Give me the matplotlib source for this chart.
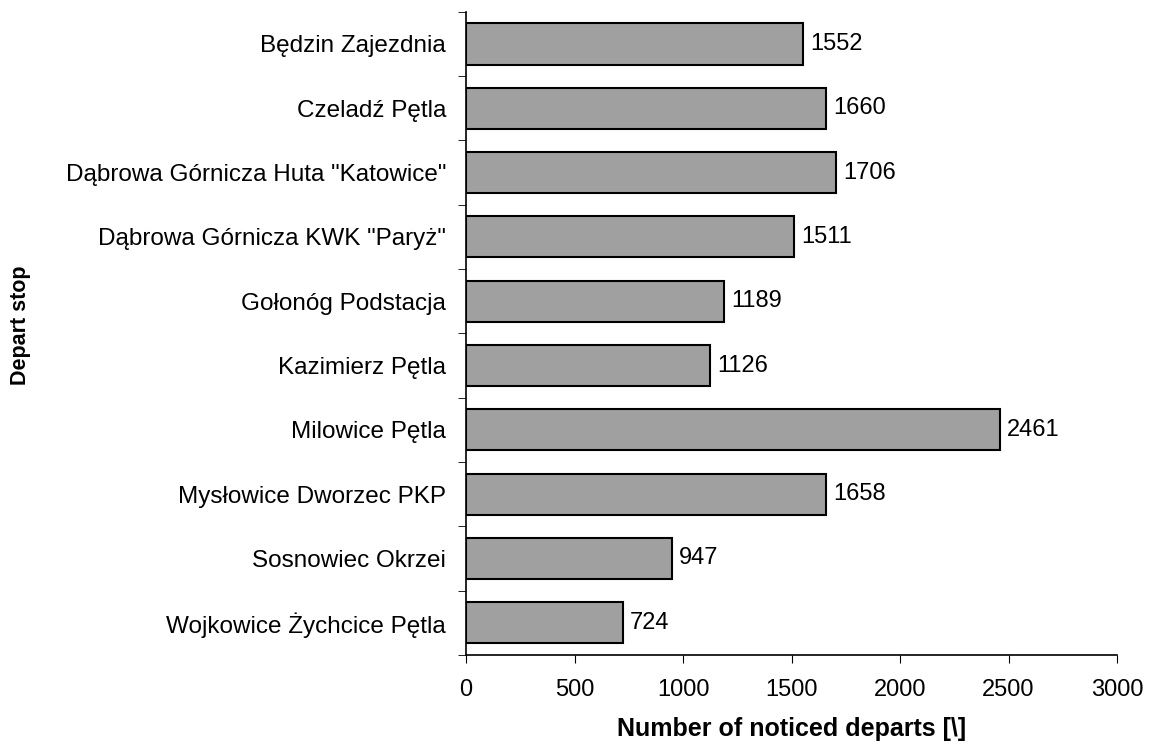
import matplotlib
matplotlib.use("Agg")
import matplotlib.pyplot as plt

plt.rcParams['font.family'] = ['Liberation Sans', 'DejaVu Sans']

# data
stops = [
    'Będzin Zajezdnia',
    'Czeladź Pętla',
    'Dąbrowa Górnicza Huta "Katowice"',
    'Dąbrowa Górnicza KWK "Paryż"',
    'Gołonóg Podstacja',
    'Kazimierz Pętla',
    'Milowice Pętla',
    'Mysłowice Dworzec PKP',
    'Sosnowiec Okrzei',
    'Wojkowice Żychcice Pętla',
]
departs = [1552, 1660, 1706, 1511, 1189, 1126, 2461, 1658, 947, 724]
x_ticks = [0, 500, 1000, 1500, 2000, 2500, 3000]

fig = plt.figure(figsize=(11.51, 7.47), dpi=100)
ax = fig.add_axes([0.4049, 0.1232, 0.5656, 0.861])

ypos = list(range(len(stops)))
ax.barh(ypos, departs, height=0.64, color='#a0a0a0', edgecolor='black', linewidth=1.5)
for y, v in zip(ypos, departs):
    ax.annotate(str(v), (v, y), xytext=(5, 0), textcoords='offset points',
                va='center', ha='left', fontsize=17)

ax.set_ylim(len(stops) - 0.5, -0.5)
ax.set_xlim(0, 3000)
ax.set_xticks(x_ticks)
ax.tick_params(axis='x', labelsize=17, direction='out', length=6, pad=11)

# category labels centered, ticks at the boundaries
ax.set_yticks(ypos)
ax.set_yticklabels(stops, fontsize=17.5)
ax.tick_params(axis='y', which='major', length=0, pad=14.5)
ax.set_yticks([i - 0.5 for i in range(len(stops) + 1)], minor=True)
ax.tick_params(axis='y', which='minor', direction='out', length=6)

for s in ['top', 'right']:
    ax.spines[s].set_visible(False)
ax.spines['left'].set_linewidth(1.2)
ax.spines['bottom'].set_linewidth(1.2)

ax.set_xlabel('Number of noticed departs [\\]', fontsize=18, fontweight='bold', labelpad=12)
ax.set_ylabel('Depart stop', fontsize=15.5, fontweight='bold', va='center')
ax.yaxis.set_label_coords(-0.685, 0.513)

fig.savefig('out.png', dpi=100)
